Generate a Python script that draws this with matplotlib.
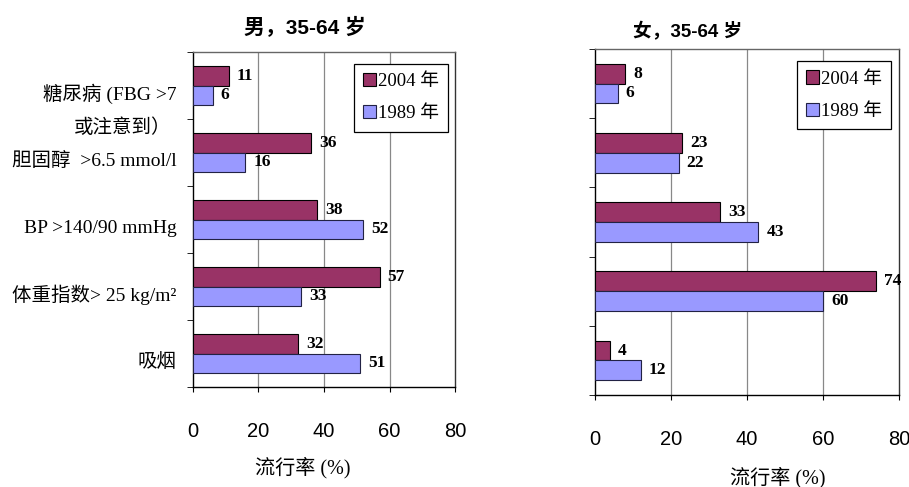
import matplotlib
matplotlib.use("Agg")
import matplotlib.pyplot as plt
import numpy as np

# data
categories = ["糖尿病 (FBG >7", "胆固醇  >6.5 mmol/l", "BP >140/90 mmHg",
              "体重指数> 25 kg/m²", "吸烟"]
extra_label = "或注意到）"
years = ["2004 年", "1989 年"]
male_2004 = [11, 36, 38, 57, 32]
male_1989 = [6, 16, 52, 33, 51]
female_2004 = [8, 23, 33, 74, 4]
female_1989 = [6, 22, 43, 60, 12]
xticks = [0, 20, 40, 60, 80]

serif = ["Liberation Serif", "Noto Sans CJK SC"]
sans = ["Liberation Sans", "Noto Sans CJK SC"]
c2004 = "#993366"
c1989 = "#9999ff"

fig = plt.figure(figsize=(9.09, 4.87), dpi=100)
ax1 = fig.add_axes([0.2123, 0.2053, 0.2883, 0.6879])
ax2 = fig.add_axes([0.6546, 0.1889, 0.3344, 0.7105])


def draw(ax, v2004, v1989, show_labels):
    y = np.arange(len(v2004))
    h = 0.285
    b1 = ax.barh(y - h / 2, v2004, height=h, color=c2004, edgecolor="black",
                 linewidth=0.8, label=years[0], zorder=3)
    b2 = ax.barh(y + h / 2, v1989, height=h, color=c1989, edgecolor="#222244",
                 linewidth=0.8, label=years[1], zorder=3)
    for bars, vals in ((b1, v2004), (b2, v1989)):
        for bar, v in zip(bars, vals):
            ax.annotate(str(v), xy=(v, bar.get_y() + bar.get_height() / 2),
                        xytext=(8, 0), textcoords="offset pixels",
                        ha="left", va="center", fontsize=12.5,
                        fontweight="bold", family=serif, annotation_clip=False)
    ax.set_xlim(0, 80)
    ax.set_ylim(len(v2004) - 0.5, -0.5)
    ax.set_xticks(xticks)
    ax.set_xticklabels([str(t) for t in xticks], family=sans, fontsize=14.5)
    ax.tick_params(axis="x", direction="out", length=3.5, pad=22, colors="black")
    ax.set_yticks(y + 0.1)
    if show_labels:
        ax.set_yticklabels(categories, family=serif, fontsize=14)
    else:
        ax.set_yticklabels([])
    ax.tick_params(axis="y", which="major", length=0, pad=12)
    ax.set_yticks(np.arange(len(v2004) + 1) - 0.5, minor=True)
    ax.tick_params(axis="y", which="minor", direction="out", length=4)
    for x in xticks[1:-1]:
        ax.axvline(x, color="#888888", linewidth=0.9, zorder=1)
    for s in ax.spines.values():
        s.set_linewidth(1.0)
    ax.spines["top"].set_color("#666666")
    ax.spines["right"].set_color("#333333")
    leg = ax.legend(loc="upper right", bbox_to_anchor=(0.975, 0.965),
                    prop={"family": serif, "size": 13.5}, frameon=True,
                    fancybox=False, edgecolor="black", framealpha=1,
                    handlelength=0.7, handleheight=0.7, handletextpad=0.1,
                    labelspacing=0.8, borderpad=0.5, borderaxespad=0)
    leg.get_frame().set_linewidth(0.9)


draw(ax1, male_2004, male_1989, True)
draw(ax2, female_2004, female_1989, False)

ax1.annotate(extra_label, xy=(0, 0.63), xycoords=ax1.get_yaxis_transform(),
             xytext=(-22, 0), textcoords="offset pixels", ha="right",
             va="center", family=serif, fontsize=14)

fig.text(305 / 909, 1 - 28 / 487, "男，35-64 岁", ha="center", va="center",
         family=sans, fontsize=15, fontweight="bold")
fig.text(688 / 909, 1 - 32 / 487, "女，35-64 岁", ha="center", va="center",
         family=sans, fontsize=13.5, fontweight="bold")
fig.text(303 / 909, 1 - 468 / 487, "流行率 (%)", ha="center", va="center",
         family=serif, fontsize=14.5)
fig.text(778 / 909, 1 - 478 / 487, "流行率 (%)", ha="center", va="center",
         family=serif, fontsize=14.5)

fig.savefig("out.png", dpi=100)
